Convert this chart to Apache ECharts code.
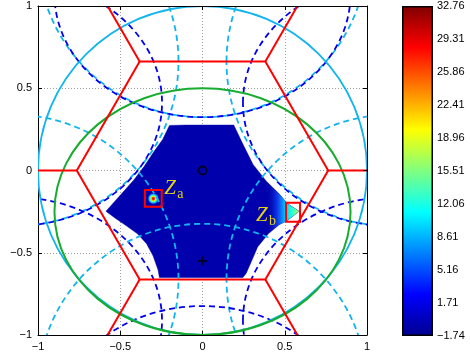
<!DOCTYPE html>
<html><head><meta charset="utf-8">
<script src="https://cdn.jsdelivr.net/npm/echarts@6/dist/echarts.min.js"></script>
<style>html,body{margin:0;padding:0;background:#fff}#c{width:470px;height:356px}</style>
</head><body><div id="c"></div>
<script>
// ---------------- data ----------------
const axisTicks = [-1, -0.5, 0, 0.5, 1];
const axisTickLabels = ['\u22121', '\u22120.5', '0', '0.5', '1'];
const colorbarTickLabels = ['\u22121.74', '1.71', '5.16', '8.61', '12.06', '15.51', '18.96', '22.41', '25.86', '29.31', '32.76'];
const colorbarSpan = [colorbarTickLabels.length - 1];

// hexagonal cell (red) and its outgoing edges
const hexVertexX = [0.764, 0.382, -0.382, -0.764, -0.382, 0.382];
const hexVertexY = [0, 0.662, 0.662, 0, -0.662, -0.662];
const spokeEndX = [1.528, 0.764, -0.764, -1.528, -0.764, 0.764];
const spokeEndY = [0, 1.324, 1.324, 0, -1.324, -1.324];

// unit circle (cyan, solid) and its shifted copies (cyan, dashed)
const circleX = [0], circleY = [0], circleR = [1];
const shiftedCircleX = [1.146, 0, -1.146, -1.146, 0, 1.146];
const shiftedCircleY = [0.662, 1.324, 0.662, -0.662, -1.324, -0.662];
// ellipse (green, solid) and its shifted copies (blue, dashed)
const ellipseX = [0], ellipseY = [-0.25];
const ellipseA = 0.9, ellipseB = 0.75;
const shiftedEllipseX = [1.146, 0, -1.146, -1.146, 0, 1.146];
const shiftedEllipseY = [0.412, 1.074, 0.412, -0.912, -1.574, -0.912];

// outline of the coloured (valid) region
const regionX = [-0.201, -0.10, 0.0, 0.10, 0.19, 0.246, 0.307, 0.388, 0.47, 0.514, 0.587, 0.514, 0.465, 0.400, 0.335, 0.297, 0.266, 0.246, -0.262, -0.270, -0.300, -0.340, -0.395, -0.465, -0.530, -0.587, -0.496, -0.415, -0.354, -0.293, -0.242];
const regionY = [0.274, 0.276, 0.276, 0.276, 0.276, 0.159, 0.037, -0.065, -0.146, -0.2, -0.248, -0.305, -0.33, -0.385, -0.465, -0.553, -0.624, -0.65, -0.65, -0.605, -0.520, -0.445, -0.385, -0.335, -0.290, -0.248, -0.146, -0.055, 0.026, 0.118, 0.189];
const regionValue = [-0.2];
// high-value tip near Z_b
const tipX = [0.388, 0.47, 0.514, 0.587, 0.514, 0.465, 0.400];
const tipY = [-0.065, -0.146, -0.2, -0.248, -0.305, -0.33, -0.385];
// peak near Z_a
const peakX = [-0.299], peakY = [-0.171], peakR = [0.036];

// markers
const circleMarkX = [0], circleMarkY = [0];
const plusMarkX = [0], plusMarkY = [-0.549];
// boxes [x0, y0, x1, y1]
const boxX0 = [-0.350, 0.508], boxY0 = [-0.220, -0.311], boxX1 = [-0.248, 0.593], boxY1 = [-0.119, -0.196];
// labels
const labelMain = ['Z', 'Z'];
const labelSub = ['a', 'b'];
const labelX = [-0.232, 0.325];
const labelY = [-0.175, -0.338];

// ---------------- chart ----------------
const jetStops = [
  { offset: 0, color: '#00008F' }, { offset: 0.125, color: '#0000FF' },
  { offset: 0.375, color: '#00FFFF' }, { offset: 0.625, color: '#FFFF00' },
  { offset: 0.875, color: '#FF0000' }, { offset: 1, color: '#800000' }
];
const colorMin = -1.74, colorMax = 32.76;
function jetColor(v) {
  const t = (v - colorMin) / (colorMax - colorMin);
  const f = x => Math.max(0, Math.min(1, x));
  const r = f(Math.min(4 * t - 1.5, -4 * t + 4.5));
  const g = f(Math.min(4 * t - 0.5, -4 * t + 3.5));
  const b = f(Math.min(4 * t + 0.5, -4 * t + 2.5));
  return 'rgb(' + [r, g, b].map(c => Math.round(c * 255)).join(',') + ')';
}

const FONT = 'Liberation Sans';
function fmtAxis(v) {
  const i = axisTicks.findIndex(t => Math.abs(t - v) < 1e-9);
  return i >= 0 ? axisTickLabels[i] : '';
}
function mainAxis(extra) {
  return Object.assign({ type: 'value', min: -1, max: 1, interval: 0.5, gridIndex: 0 }, extra);
}
const boxLine = { onZero: false, lineStyle: { color: '#000', width: 1 } };
const inTick = { inside: true, length: 4, lineStyle: { color: '#000', width: 1 } };
const gridDots = { show: true, lineStyle: { color: '#a0a0a0', type: [1, 2], width: 1 } };
const tickLabel = { formatter: fmtAxis, color: '#000', fontSize: 11, fontFamily: FONT, margin: 6 };

function polyRender(xs, ys, style) {
  return function (params, api) {
    const pts = xs.map((x, i) => api.coord([x, ys[i]]));
    return { type: 'polygon', shape: { points: pts }, style: style };
  };
}
function ellipseRender(color, width, dash) {
  return function (params, api) {
    const c = api.coord([api.value(0), api.value(1)]);
    const s = api.size([api.value(2), api.value(3)]);
    return { type: 'ellipse', shape: { cx: c[0], cy: c[1], rx: s[0], ry: s[1] },
      style: { fill: 'none', stroke: color, lineWidth: width, lineDash: dash } };
  };
}
function customBase(z) {
  return { type: 'custom', coordinateSystem: 'cartesian2d', xAxisIndex: 0, yAxisIndex: 0, clip: true, silent: true, z: z };
}

const CYAN = '#12B4EE', BLUE = '#0000F0', GREEN = '#17AC2E', RED = '#FF0000', YELLOW = '#E2D312';
const DASH = [6, 4];

const hexSegs = hexVertexX.map((x, i) => [x, hexVertexY[i], spokeEndX[i], spokeEndY[i]]);

const option = {
  animation: false,
  backgroundColor: '#fff',
  grid: [
    { left: 38, top: 6, width: 329, height: 329, outerBoundsMode: 'none', containLabel: false },
    { left: 402, top: 6, width: 31, height: 330, outerBoundsMode: 'none', containLabel: false }
  ],
  xAxis: [
    mainAxis({ position: 'bottom', axisLine: boxLine, axisTick: inTick, axisLabel: tickLabel, splitLine: gridDots }),
    mainAxis({ position: 'top', axisLine: boxLine, axisTick: inTick, axisLabel: { show: false }, splitLine: { show: false }, z: 20 }),
    { gridIndex: 1, type: 'category', data: ['c'], axisLine: { show: false }, axisTick: { show: false }, axisLabel: { show: false }, splitLine: { show: false } }
  ],
  yAxis: [
    mainAxis({ position: 'left', axisLine: boxLine, axisTick: inTick, axisLabel: tickLabel, splitLine: gridDots }),
    mainAxis({ position: 'right', axisLine: boxLine, axisTick: inTick, axisLabel: { show: false }, splitLine: { show: false }, z: 20 }),
    { gridIndex: 1, type: 'value', min: 0, max: 10, interval: 1, position: 'right',
      axisLine: { show: false }, axisTick: { inside: true, length: 3, lineStyle: { color: '#000' } },
      axisLabel: { formatter: v => colorbarTickLabels[Math.round(v)], color: '#000', fontSize: 11, fontFamily: FONT, margin: 4 },
      splitLine: { show: false }, z: 20 },
    { gridIndex: 1, type: 'value', min: 0, max: 10, interval: 1, position: 'left',
      axisLine: { show: false }, axisTick: { inside: true, length: 3, lineStyle: { color: '#000' } },
      axisLabel: { show: false }, splitLine: { show: false }, z: 20 }
  ],
  series: [
    // colorbar
    { type: 'bar', xAxisIndex: 2, yAxisIndex: 2, data: colorbarSpan, barWidth: '100%', silent: true,
      itemStyle: { color: new echarts.graphic.LinearGradient(0, 1, 0, 0, jetStops), borderColor: '#000', borderWidth: 1.5 } },
    // valid region
    Object.assign(customBase(1), { data: [[0, 0]],
      renderItem: polyRender(regionX, regionY, { fill: jetColor(regionValue[0]), stroke: jetColor(regionValue[0]), lineWidth: 0.5 }) }),
    // tip with high values
    Object.assign(customBase(2), { data: [[0.5, -0.2]],
      renderItem: polyRender(tipX, tipY, { fill: new echarts.graphic.LinearGradient(0, 0, 1, 0, [
        { offset: 0, color: 'rgba(0,8,176,0)' }, { offset: 0.35, color: 'rgba(20,80,255,0.8)' },
        { offset: 0.6, color: '#00d8ff' }, { offset: 0.8, color: '#30ffd0' }, { offset: 1, color: '#b0ff50' }]) }) }),
    // peak near Z_a
    Object.assign(customBase(3), { data: peakX.map((x, i) => [x, peakY[i], peakR[i]]),
      renderItem: function (params, api) {
        const c = api.coord([api.value(0), api.value(1)]);
        const r = api.size([api.value(2), 0])[0];
        return { type: 'circle', shape: { cx: c[0], cy: c[1], r: r }, style: { fill: new echarts.graphic.RadialGradient(0.5, 0.5, 0.5, [
          { offset: 0, color: '#a00000' }, { offset: 0.2, color: '#ff3000' }, { offset: 0.38, color: '#ffe000' },
          { offset: 0.55, color: '#40ffc0' }, { offset: 0.75, color: '#10a0ff' }, { offset: 1, color: 'rgba(10,60,230,0)' }]) } };
      } }),
    // dashed shifted circles
    Object.assign(customBase(4), { data: shiftedCircleX.map((x, i) => [x, shiftedCircleY[i], circleR[0], circleR[0]]),
      renderItem: ellipseRender(CYAN, 1.8, DASH) }),
    // dashed shifted ellipses
    Object.assign(customBase(5), { data: shiftedEllipseX.map((x, i) => [x, shiftedEllipseY[i], ellipseA, ellipseB]),
      renderItem: ellipseRender(BLUE, 1.8, DASH) }),
    // unit circle
    Object.assign(customBase(6), { data: circleX.map((x, i) => [x, circleY[i], circleR[i], circleR[i]]),
      renderItem: ellipseRender(CYAN, 1.8, null) }),
    // ellipse
    Object.assign(customBase(7), { data: ellipseX.map((x, i) => [x, ellipseY[i], ellipseA, ellipseB]),
      renderItem: ellipseRender(GREEN, 2, null) }),
    // hexagon
    Object.assign(customBase(8), { data: [[0, 0]],
      renderItem: polyRender(hexVertexX, hexVertexY, { fill: 'none', stroke: RED, lineWidth: 2 }) }),
    Object.assign(customBase(8), { data: hexSegs,
      renderItem: function (params, api) {
        const a = api.coord([api.value(0), api.value(1)]);
        const b = api.coord([api.value(2), api.value(3)]);
        return { type: 'line', shape: { x1: a[0], y1: a[1], x2: b[0], y2: b[1] }, style: { stroke: RED, lineWidth: 2 } };
      } }),
    // boxes
    Object.assign(customBase(9), { data: boxX0.map((x, i) => [x, boxY0[i], boxX1[i], boxY1[i]]),
      renderItem: function (params, api) {
        const a = api.coord([api.value(0), api.value(3)]);
        const b = api.coord([api.value(2), api.value(1)]);
        return { type: 'rect', shape: { x: a[0], y: a[1], width: b[0] - a[0], height: b[1] - a[1] },
          style: { fill: 'none', stroke: RED, lineWidth: 2 } };
      } }),
    // markers
    { type: 'scatter', xAxisIndex: 0, yAxisIndex: 0, z: 10, silent: true, symbol: 'circle', symbolSize: 8,
      itemStyle: { color: 'rgba(0,0,0,0)', borderColor: '#000', borderWidth: 1.8 },
      data: circleMarkX.map((x, i) => [x, circleMarkY[i]]) },
    { type: 'scatter', xAxisIndex: 0, yAxisIndex: 0, z: 10, silent: true,
      symbol: 'path://M4,0H6V4H10V6H6V10H4V6H0V4H4Z', symbolSize: 9, itemStyle: { color: '#000' },
      data: plusMarkX.map((x, i) => [x, plusMarkY[i]]) },
    // labels
    Object.assign(customBase(11), { clip: false, data: labelX.map((x, i) => [x, labelY[i], i]),
      renderItem: function (params, api) {
        const c = api.coord([api.value(0), api.value(1)]);
        const i = api.value(2);
        return { type: 'group', children: [
          { type: 'text', x: c[0], y: c[1], style: { text: labelMain[i], font: 'italic 21px "Liberation Serif"', fill: YELLOW, textAlign: 'left', textVerticalAlign: 'bottom' } },
          { type: 'text', x: c[0] + 13, y: c[1] + 2, style: { text: labelSub[i], font: '14px "Liberation Serif"', fill: YELLOW, textAlign: 'left', textVerticalAlign: 'bottom' } }
        ] };
      } })
  ]
};
const chart = echarts.init(document.getElementById('c'));
chart.setOption(option);
</script></body></html>
